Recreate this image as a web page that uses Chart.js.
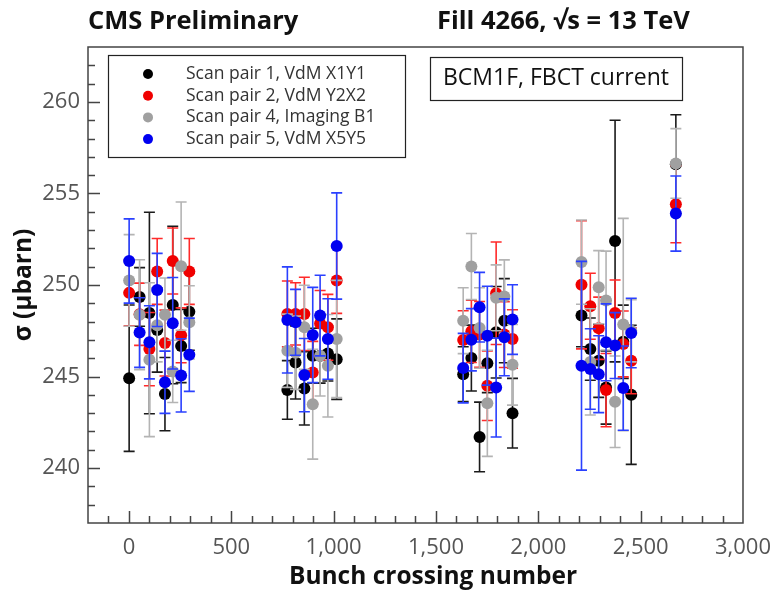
<!DOCTYPE html>
<html>
<head>
<meta charset="utf-8">
<script src="https://cdn.jsdelivr.net/npm/chart.js@4.4.1/dist/chart.umd.min.js"></script>
<style>
  html, body { margin: 0; padding: 0; background: #fff; }
  #wrap { width: 783px; height: 591px; }
</style>
</head>
<body>
<div id="wrap"><canvas id="sigmaChart" width="783" height="591"></canvas></div>
<script>
const bunches = [1, 52, 100, 138, 176, 214, 255, 295,
  774, 814, 857, 898, 934, 972, 1015,
  1633, 1673, 1713, 1751, 1794, 1834, 1874,
  2211, 2254, 2295, 2331, 2375, 2415, 2454,
  2672];

// Scan pair 1, VdM X1Y1
const pair1 = [244.91, 249.35, 248.47, 247.54, 244.04, 248.91, 246.67, 248.54,
  244.27, 245.77, 244.35, 246.14, 246.14, 246.26, 245.95,
  245.13, 246.01, 241.7, 245.72, 247.42, 248.05, 243.0,
  248.33, 246.5, 245.86, 244.4, 252.4, 246.9, 244.0,
  256.6];
const pair1Err = [4.0, 1.6, 5.5, 2.3, 2.0, 4.3, 2.0, 2.1,
  1.6, 2.0, 2.0, 1.5, 1.5, 1.5, 2.2,
  1.5, 1.8, 1.9, 1.6, 2.5, 2.3, 1.9,
  1.7, 1.7, 2.0, 2.0, 6.6, 2.0, 3.8,
  2.7];

// Scan pair 2, VdM Y2X2
const pair2 = [249.57, 248.4, 246.5, 250.74, 246.83, 251.31, 247.25, 250.74,
  248.42, 248.42, 248.42, 245.22, 247.9, 247.69, 250.25,
  246.99, 247.47, 247.3, 244.5, 249.55, 247.29, 247.05,
  250.01, 248.84, 247.64, 244.26, 248.47, 246.78, 245.86,
  254.41];
const pair2Err = [1.8, 1.7, 2.0, 1.8, 1.8, 1.8, 1.5, 1.8,
  1.8, 1.7, 2.0, 1.7, 1.8, 1.8, 1.8,
  1.6, 1.7, 1.8, 1.9, 2.8, 1.8, 1.6,
  3.5, 1.8, 1.7, 2.0, 1.8, 1.8, 1.8,
  2.1];

// Scan pair 4, Imaging B1
const pair4 = [250.25, 248.38, 245.92, 247.8, 248.38, 245.28, 251.03, 247.96,
  246.41, 246.3, 247.69, 243.49, 246.14, 245.59, 247.05,
  248.05, 251.01, 247.65, 243.54, 249.3, 249.37, 245.64,
  251.25, 245.8, 249.88, 249.15, 243.62, 247.84, 247.5,
  256.64];
const pair4Err = [2.5, 3.0, 4.2, 2.0, 2.0, 1.7, 3.5, 2.0,
  2.0, 2.0, 2.3, 3.0, 2.2, 2.8, 3.2,
  1.8, 1.8, 2.2, 2.9, 1.8, 2.0, 2.2,
  2.3, 2.9, 2.0, 2.7, 2.5, 5.8, 1.7,
  1.9];

// Scan pair 5, VdM X5Y5
const pair5 = [251.31, 247.4, 246.87, 249.73, 244.69, 247.91, 245.06, 246.19,
  248.09, 247.96, 245.08, 247.27, 248.33, 247.05, 252.13,
  245.46, 247.01, 248.79, 247.23, 244.4, 247.14, 248.11,
  245.59, 245.41, 245.13, 246.87, 246.69, 244.37, 247.38,
  253.9];
const pair5Err = [2.3, 1.9, 2.0, 2.0, 1.7, 2.5, 2.0, 2.0,
  2.9, 1.8, 2.0, 2.6, 2.2, 2.2, 2.9,
  1.9, 1.7, 1.9, 2.7, 2.7, 2.1, 1.9,
  5.7, 2.2, 2.1, 2.1, 1.8, 2.3, 1.9,
  2.05];

const seriesLabels = ["Scan pair 1, VdM X1Y1", "Scan pair 2, VdM Y2X2", "Scan pair 4, Imaging B1", "Scan pair 5, VdM X5Y5"];
const xTicks = [0, 500, 1000, 1500, 2000, 2500, 3000];
const yTicks = [240, 245, 250, 255, 260];

const colors = {
  black: { dot: "#000000", bar: "#1a1a1a" },
  red: { dot: "#f00000", bar: "#ff2a2a" },
  gray: { dot: "#a0a0a0", bar: "#b4b4b4" },
  blue: { dot: "#0000f0", bar: "#2a40ff" },
};
const FONT = "'Open Sans', 'Noto Sans', sans-serif";

function makeSet(label, vals, errs, c, order) {
  return {
    label: label,
    data: vals.map((v, i) => ({ x: bunches[i], y: v, e: errs[i] })),
    backgroundColor: c.dot,
    borderWidth: 0,
    pointRadius: 6,
    pointHoverRadius: 6,
    barColor: c.bar,
    order: order,
  };
}

// error bars, drawn just before each dataset's dots
const errorBars = {
  id: "errorBars",
  beforeDatasetDraw(chart, args) {
    const ds = chart.data.datasets[args.index];
    const { ctx, scales: { x, y } } = chart;
    ctx.save();
    ctx.strokeStyle = ds.barColor;
    ctx.lineWidth = 1.6;
    ds.data.forEach((p) => {
      const px = x.getPixelForValue(p.x);
      const top = y.getPixelForValue(p.y + p.e);
      const bot = y.getPixelForValue(p.y - p.e);
      ctx.beginPath();
      ctx.moveTo(px, top); ctx.lineTo(px, bot);
      ctx.moveTo(px - 5.5, top); ctx.lineTo(px + 5.5, top);
      ctx.moveTo(px - 5.5, bot); ctx.lineTo(px + 5.5, bot);
      ctx.stroke();
    });
    ctx.restore();
  },
};

// frame, inward ticks, headers, legend and label box
const decorations = {
  id: "decorations",
  afterDraw(chart) {
    const { ctx, chartArea: a, scales: { x, y } } = chart;
    ctx.save();
    ctx.strokeStyle = "#444";
    ctx.lineWidth = 1.5;
    ctx.strokeRect(a.left, a.top, a.right - a.left, a.bottom - a.top);

    ctx.beginPath();
    for (let v = 238; v <= 262; v++) {
      const py = Math.round(y.getPixelForValue(v)) + 0.5;
      ctx.moveTo(a.left, py);
      ctx.lineTo(a.left + (v % 5 === 0 ? 12 : 7), py);
    }
    for (let v = -100; v < 3000; v += 100) {
      const px = Math.round(x.getPixelForValue(v)) + 0.5;
      ctx.moveTo(px, a.bottom);
      ctx.lineTo(px, a.bottom - (v % 500 === 0 ? 12 : 7));
    }
    ctx.stroke();

    ctx.fillStyle = "#111";
    ctx.textBaseline = "middle";
    ctx.textAlign = "left";
    ctx.font = "bold 25.5px " + FONT;
    ctx.fillText("CMS Preliminary", 88, 22);
    ctx.fillText("Fill 4266, \u221As = 13 TeV", 437, 22);

    ctx.textAlign = "center";
    ctx.font = "bold 24.5px " + FONT;
    ctx.fillText("Bunch crossing number", 433, 577);

    // legend
    ctx.textAlign = "left";
    ctx.lineWidth = 1.2;
    ctx.strokeStyle = "#222";
    ctx.strokeRect(108.5, 55.5, 297, 102);
    ctx.font = "17.5px " + FONT;
    const dots = [colors.black.dot, colors.red.dot, colors.gray.dot, colors.blue.dot];
    seriesLabels.forEach((t, i) => {
      const ry = 74 + i * 21.7;
      ctx.fillStyle = dots[i];
      ctx.beginPath();
      ctx.arc(148, ry, 5, 0, Math.PI * 2);
      ctx.fill();
      ctx.fillStyle = "#333";
      ctx.fillText(t, 186, ry);
    });

    ctx.strokeRect(430.5, 57.5, 252, 43);
    ctx.fillStyle = "#111";
    ctx.textAlign = "center";
    ctx.font = "23px " + FONT;
    ctx.fillText("BCM1F, FBCT current", 556, 78);
    ctx.restore();
  },
};

new Chart(document.getElementById("sigmaChart"), {
  type: "scatter",
  data: {
    datasets: [
      makeSet(seriesLabels[0], pair1, pair1Err, colors.black, 4),
      makeSet(seriesLabels[1], pair2, pair2Err, colors.red, 3),
      makeSet(seriesLabels[2], pair4, pair4Err, colors.gray, 2),
      makeSet(seriesLabels[3], pair5, pair5Err, colors.blue, 1),
    ],
  },
  options: {
    responsive: false,
    animation: false,
    layout: { padding: { top: 47, right: 31, left: 0, bottom: 0 } },
    plugins: {
      legend: { display: false },
      tooltip: { enabled: false },
    },
    scales: {
      x: {
        type: "linear",
        min: -200,
        max: 3000,
        grid: { display: false, drawTicks: false },
        border: { display: false },
        afterBuildTicks: (s) => { s.ticks = xTicks.map((v) => ({ value: v })); },
        afterFit: (s) => { s.height = 68; },
        ticks: {
          padding: 12,
          color: "#555",
          font: { family: FONT, size: 22 },
          callback: (v) => v.toLocaleString("en-US"),
        },
      },
      y: {
        min: 237,
        max: 263,
        grid: { display: false, drawTicks: false },
        border: { display: false },
        afterBuildTicks: (s) => { s.ticks = yTicks.map((v) => ({ value: v })); },
        afterFit: (s) => { s.width = 88; },
        ticks: {
          padding: 8,
          color: "#555",
          font: { family: FONT, size: 22 },
        },
        title: {
          display: true,
          text: "\u03C3 (\u00B5barn)",
          color: "#111",
          font: { family: FONT, size: 24.5, weight: "bold" },
          padding: { top: 9, bottom: 0 },
        },
      },
    },
  },
  plugins: [errorBars, decorations],
});
</script>
</body>
</html>
